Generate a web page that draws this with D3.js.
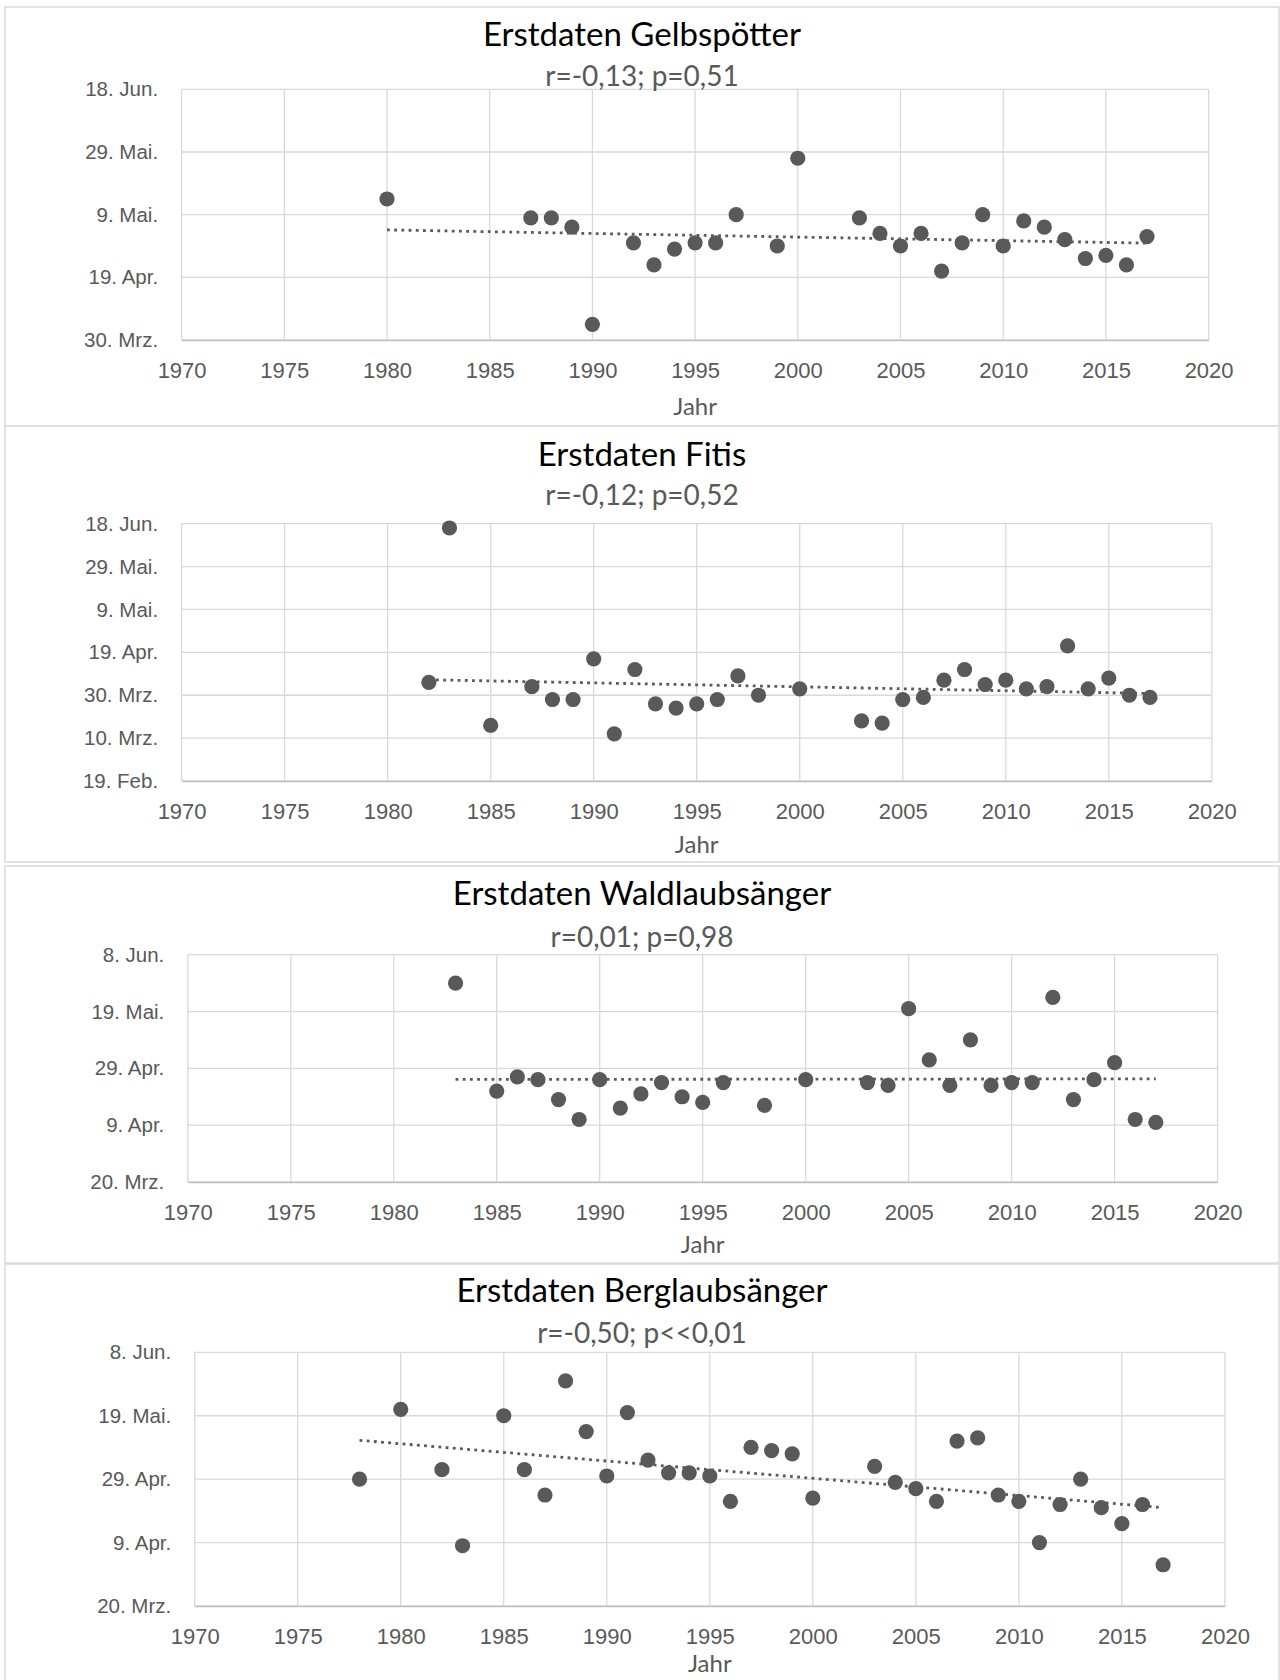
<!DOCTYPE html>
<html>
<head>
<meta charset="utf-8">
<script src="https://cdnjs.cloudflare.com/ajax/libs/d3/7.8.5/d3.min.js"></script>
<style>
body { margin: 0; background: #fff; }
svg { font-family: Lato, "Open Sans", sans-serif; }
</style>
</head>
<body>
<script>
// Excel month abbreviations (German)
var monthNames = ["Jan.", "Feb.", "Mrz.", "Apr.", "Mai.", "Jun.", "Jul.", "Aug.", "Sep.", "Okt.", "Nov.", "Dez."];
var xTicks = [1970, 1975, 1980, 1985, 1990, 1995, 2000, 2005, 2010, 2015, 2020];

// days are day-of-year in a leap year (Excel style), 90 = 30. Mrz.
var gelbYears = [1980, 1987, 1988, 1989, 1990, 1992, 1993, 1994, 1995, 1996, 1997, 1999, 2000, 2003, 2004, 2005, 2006, 2007, 2008, 2009, 2010, 2011, 2012, 2013, 2014, 2015, 2016, 2017];
var gelbDays  = [135, 129, 129, 126, 95, 121, 114, 119, 121, 121, 130, 120, 148, 129, 124, 120, 124, 112, 121, 130, 120, 128, 126, 122, 116, 117, 114, 123];
var gelbTicks = [90, 110, 130, 150, 170];

var fitisYears = [1982, 1983, 1985, 1987, 1988, 1989, 1990, 1991, 1992, 1993, 1994, 1995, 1996, 1997, 1998, 2000, 2003, 2004, 2005, 2006, 2007, 2008, 2009, 2010, 2011, 2012, 2013, 2014, 2015, 2016, 2017];
var fitisDays  = [96, 168, 76, 94, 88, 88, 107, 72, 102, 86, 84, 86, 88, 99, 90, 93, 78, 77, 88, 89, 97, 102, 95, 97, 93, 94, 113, 93, 98, 90, 89];
var fitisTicks = [50, 70, 90, 110, 130, 150, 170];

var waldYears = [1983, 1985, 1986, 1987, 1988, 1989, 1990, 1991, 1992, 1993, 1994, 1995, 1996, 1998, 2000, 2003, 2004, 2005, 2006, 2007, 2008, 2009, 2010, 2011, 2012, 2013, 2014, 2015, 2016, 2017];
var waldDays  = [150, 112, 117, 116, 109, 102, 116, 106, 111, 115, 110, 108, 115, 107, 116, 115, 114, 141, 123, 114, 130, 114, 115, 115, 145, 109, 116, 122, 102, 101];
var waldTicks = [80, 100, 120, 140, 160];

var bergYears = [1978, 1980, 1982, 1983, 1985, 1986, 1987, 1988, 1989, 1990, 1991, 1992, 1993, 1994, 1995, 1996, 1997, 1998, 1999, 2000, 2003, 2004, 2005, 2006, 2007, 2008, 2009, 2010, 2011, 2012, 2013, 2014, 2015, 2016, 2017];
var bergDays  = [120, 142, 123, 99, 140, 123, 115, 151, 135, 121, 141, 126, 122, 122, 121, 113, 130, 129, 128, 114, 124, 119, 117, 113, 132, 133, 115, 113, 100, 112, 120, 111, 106, 112, 93];
var bergTicks = [80, 100, 120, 140, 160];

var panels = [
  { title: "Erstdaten Gelbspötter", stat: "r=-0,13; p=0,51", years: gelbYears, days: gelbDays, ticks: gelbTicks,
    box: [5, 7, 1274, 419], plot: [181.6, 1208.6, 89.3, 340], titleY: 46, statY: 86, jahrY: 415 },
  { title: "Erstdaten Fitis", stat: "r=-0,12; p=0,52", years: fitisYears, days: fitisDays, ticks: fitisTicks,
    box: [5, 426, 1274, 436], plot: [181.6, 1211.8, 523.7, 781], titleY: 466, statY: 505, jahrY: 853 },
  { title: "Erstdaten Waldlaubsänger", stat: "r=0,01; p=0,98", years: waldYears, days: waldDays, ticks: waldTicks,
    box: [5, 866, 1274, 397], plot: [187.8, 1217.6, 954.7, 1182], titleY: 905, statY: 947, jahrY: 1253 },
  { title: "Erstdaten Berglaubsänger", stat: "r=-0,50; p<<0,01", years: bergYears, days: bergDays, ticks: bergTicks,
    box: [5, 1264, 1274, 430], plot: [194.7, 1224.9, 1352.3, 1606], titleY: 1302, statY: 1343, jahrY: 1672 }
];

function dayLabel(d) {
  var dt = new Date(2000, 0, d);
  return dt.getDate() + ". " + monthNames[dt.getMonth()];
}

var svg = d3.select("body").append("svg").attr("width", 1280).attr("height", 1680);

panels.forEach(function(p) {
  var g = svg.append("g");
  var l = p.plot[0], r = p.plot[1], t = p.plot[2], b = p.plot[3];

  g.append("rect")
    .attr("x", p.box[0]).attr("y", p.box[1])
    .attr("width", p.box[2]).attr("height", p.box[3])
    .attr("fill", "#fff").attr("stroke", "#d9d9d9").attr("stroke-width", 1.5);

  var x = d3.scaleLinear().domain([1970, 2020]).range([l, r]);
  var y = d3.scaleLinear().domain([p.ticks[0], p.ticks[p.ticks.length - 1]]).range([b, t]);

  // grid
  g.selectAll(".vg").data(xTicks).enter().append("line")
    .attr("x1", function(d){ return x(d); }).attr("x2", function(d){ return x(d); })
    .attr("y1", t).attr("y2", b)
    .attr("stroke", "#d9d9d9").attr("stroke-width", 1.3);
  g.selectAll(".hg").data(p.ticks).enter().append("line")
    .attr("x1", l).attr("x2", r)
    .attr("y1", function(d){ return y(d); }).attr("y2", function(d){ return y(d); })
    .attr("stroke", "#d9d9d9").attr("stroke-width", 1.3);

  var xAxis = d3.axisBottom(x).tickValues(xTicks).tickFormat(d3.format("d")).tickSize(0).tickPadding(22);
  var yAxis = d3.axisLeft(y).tickValues(p.ticks).tickFormat(dayLabel).tickSize(0).tickPadding(23.5);

  var xa = g.append("g").attr("transform", "translate(0," + b + ")").call(xAxis);
  xa.select(".domain").attr("stroke", "#bfbfbf").attr("stroke-width", 1.5);
  xa.selectAll(".tick text").attr("fill", "#595959").style("font-size", "22px");
  var ya = g.append("g").attr("transform", "translate(" + l + ",0)").call(yAxis);
  ya.select(".domain").remove();
  ya.selectAll(".tick text").attr("fill", "#595959").style("font-size", "20.5px");

  // trend (least squares)
  var mx = d3.mean(p.years), my = d3.mean(p.days);
  var sxy = d3.sum(p.years, function(v, i){ return (v - mx) * (p.days[i] - my); });
  var sxx = d3.sum(p.years, function(v){ return (v - mx) * (v - mx); });
  var slope = sxy / sxx, icpt = my - slope * mx;
  var ext = d3.extent(p.years);
  var line = d3.line().x(function(d){ return x(d); }).y(function(d){ return y(icpt + slope * d); });
  g.append("path").attr("d", line(ext))
    .attr("fill", "none").attr("stroke", "#595959").attr("stroke-width", 2.8)
    .attr("stroke-dasharray", "2.8,4.4");

  g.selectAll("circle").data(p.years).enter().append("circle")
    .attr("cx", function(d){ return x(d); })
    .attr("cy", function(d, i){ return y(p.days[i]); })
    .attr("r", 7.6)
    .attr("fill", "#595959");

  var cx = (p.box[0] * 2 + p.box[2]) / 2;
  g.append("text").attr("x", cx).attr("y", p.titleY).attr("text-anchor", "middle")
    .style("font-size", "33px").attr("fill", "#000").text(p.title);
  g.append("text").attr("x", cx).attr("y", p.statY).attr("text-anchor", "middle")
    .style("font-size", "28px").attr("fill", "#595959").text(p.stat);
  g.append("text").attr("x", (l + r) / 2).attr("y", p.jahrY).attr("text-anchor", "middle")
    .style("font-size", "24px").attr("fill", "#595959").text("Jahr");
});
</script>
</body>
</html>
